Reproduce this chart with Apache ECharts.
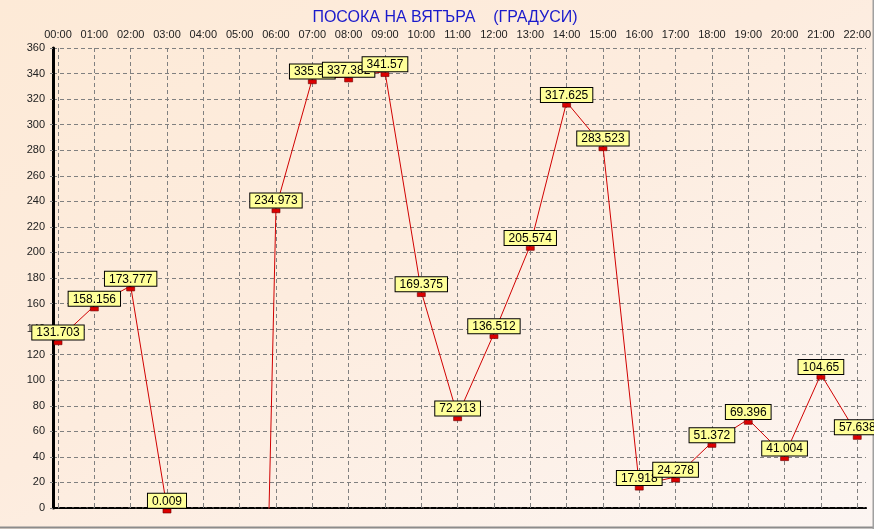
<!DOCTYPE html>
<html>
<head>
<meta charset="utf-8">
<script src="https://cdn.jsdelivr.net/npm/echarts@6/dist/echarts.min.js"></script>
<style>
  html, body { margin: 0; padding: 0; }
  #chart { width: 874px; height: 529px;
    background: linear-gradient(to bottom right, #FDEAD7 0%, #FDECDE 45%, #FCF5F2 100%); }
</style>
</head>
<body>
<div id="chart"></div>
<script>
const titleText = 'ПОСОКА НА ВЯТЪРА    (ГРАДУСИ)';
const hours = ['00:00','01:00','02:00','03:00','04:00','05:00','06:00','07:00','08:00','09:00','10:00','11:00',
               '12:00','13:00','14:00','15:00','16:00','17:00','18:00','19:00','20:00','21:00','22:00'];
// -999 = missing reading (falls below the chart)
const direction = [131.703, 158.156, 173.777, 0.009, -999, -999, 234.973, 335.94, 337.382, 341.57, 169.375, 72.213,
                   136.512, 205.574, 317.625, 283.523, 17.918, 24.278, 51.372, 69.396, 41.004, 104.65, 57.638];
const yMin = 0, yMax = 360, yStep = 20;

const chart = echarts.init(document.getElementById('chart'));
const font = 'Liberation Sans, Arial, sans-serif';
chart.setOption({
  backgroundColor: 'transparent',
  animation: false,
  title: {
    text: titleText, left: 440, top: 5, textAlign: 'center',
    textStyle: { color: '#1A1ACC', fontSize: 16, fontWeight: 'normal', fontFamily: font }
  },
  grid: [
    { left: 53, right: 8, top: 48, bottom: 21 },
    { left: 58, right: 12, top: 48, bottom: 21 }
  ],
  xAxis: [
    { gridIndex: 0, type: 'value', min: 0, max: 1, position: 'top',
      axisLine: { show: true, lineStyle: { color: '#000', width: 2, type: [5, 2] } },
      axisTick: { show: false }, axisLabel: { show: false }, splitLine: { show: false } },
    { gridIndex: 0, type: 'value', min: 0, max: 1, position: 'bottom',
      axisLine: { show: true, lineStyle: { color: '#000', width: 1.2, type: [4, 2] } },
      axisTick: { show: false }, axisLabel: { show: false }, splitLine: { show: false } },
    { gridIndex: 1, type: 'category', data: hours, boundaryGap: false, position: 'top',
      axisLine: { show: false },
      axisTick: { show: true, length: 3, alignWithLabel: true, lineStyle: { color: '#808080' } },
      axisLabel: { margin: 8, color: '#222', fontSize: 11, fontFamily: font, interval: 0 },
      splitLine: { show: true, lineStyle: { color: '#808080', width: 1, type: [4, 3] } } }
  ],
  yAxis: [
    { gridIndex: 0, type: 'value', min: yMin, max: yMax, interval: yStep,
      axisLine: { show: true, lineStyle: { color: '#000', width: 3 } },
      axisTick: { show: true, length: 3, lineStyle: { color: '#808080' } },
      axisLabel: { margin: 8, color: '#222', fontSize: 11, fontFamily: font },
      splitLine: { show: true, lineStyle: { color: '#808080', width: 1, type: [4, 3] } } },
    { gridIndex: 0, type: 'value', min: yMin, max: yMax, position: 'right',
      axisLine: { show: true, lineStyle: { color: '#000', width: 1.5 } },
      axisTick: { show: false }, axisLabel: { show: false }, splitLine: { show: false } },
    { gridIndex: 1, type: 'value', min: yMin, max: yMax, show: false }
  ],
  series: [{
    type: 'line',
    xAxisIndex: 2, yAxisIndex: 2,
    data: direction,
    clip: true,
    lineStyle: { color: '#D00000', width: 1 },
    symbol: 'rect', symbolSize: [8, 4], symbolOffset: [0, 3],
    itemStyle: { color: '#DD0000', borderColor: '#700000', borderWidth: 0.6 },
    label: {
      show: true, position: 'top', distance: 1,
      formatter: p => (p.value < yMin ? '' : String(p.value)),
      color: '#000', fontSize: 12, fontFamily: font, lineHeight: 13,
      backgroundColor: '#FFFF99', borderColor: '#000', borderWidth: 1,
      padding: [1, 4, 0, 4]
    },
    emphasis: { disabled: true }
  }],
  graphic: [
    { type: 'rect', shape: { x: 0, y: 526.5, width: 874, height: 2 }, style: { fill: '#8C8C8C' }, silent: true },
    { type: 'rect', shape: { x: 872.5, y: 0, width: 1.5, height: 529 }, style: { fill: '#A0A0A0' }, silent: true }
  ]
});
</script>
</body>
</html>
